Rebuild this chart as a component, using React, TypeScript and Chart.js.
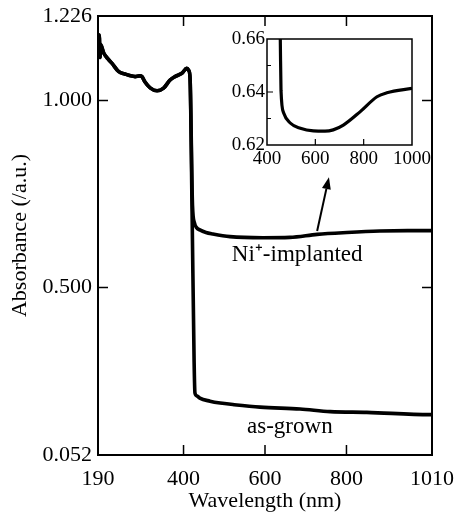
import React, { useEffect, useRef } from "react";
import { Chart, registerables } from "chart.js";

Chart.register(...registerables);

// Shared UV part of both spectra (before the absorption edge)
const uvWavelength = [191, 193, 195, 196, 204, 214, 224, 241, 256, 270, 281, 292, 298, 305, 318, 335, 351, 367, 379, 396, 408, 413, 416];
const uvAbsorbance = [1.125, 1.175, 1.115, 1.15, 1.127, 1.112, 1.1, 1.077, 1.071, 1.066, 1.064, 1.066, 1.064, 1.05, 1.034, 1.026, 1.033, 1.055, 1.064, 1.073, 1.086, 1.08, 1.06];

// Ni+-implanted tail
const niWavelength = [422, 427, 432, 440, 455, 472, 514, 595, 661, 728, 801, 882, 950, 1010];
const niAbsorbance = [0.72, 0.672, 0.66, 0.654, 0.647, 0.643, 0.636, 0.633, 0.634, 0.642, 0.647, 0.651, 0.652, 0.652];

// as-grown tail
const grownWavelength = [421, 426, 428, 433, 440, 465, 490, 521, 588, 686, 760, 850, 1005, 1010];
const grownAbsorbance = [0.7, 0.3, 0.218, 0.21, 0.204, 0.196, 0.191, 0.187, 0.18, 0.175, 0.168, 0.166, 0.16, 0.16];

// Inset (Ni+-implanted, enlarged)
const insetWavelength = [453, 455, 458, 469, 496, 538, 592, 640, 674, 716, 786, 855, 896, 1000];
const insetAbsorbance = [0.67, 0.66, 0.6405, 0.6321, 0.6283, 0.6263, 0.6253, 0.6252, 0.6257, 0.6275, 0.6326, 0.6382, 0.6397, 0.6414];

const xTickValues = [190, 400, 600, 800, 1010];
const yTickValues = [0.052, 0.5, 1.0, 1.226];
const insetXTicks = [400, 600, 800, 1000];
const insetYTicks = [0.62, 0.64, 0.66];
const insetYMinor = [0.63, 0.65];

const FONT = "'Liberation Serif', 'Times New Roman', serif";

const toPoints = (xs: number[], ys: number[]) => xs.map((x, i) => ({ x, y: ys[i] }));

function framePlugin(cfg: any) {
  return {
    id: "frameTicks",
    afterDatasetsDraw(chart: any) {
      const { ctx, chartArea: a, scales } = chart;
      const sx = scales.x;
      const sy = scales.y;
      ctx.save();
      ctx.strokeStyle = "#000";
      ctx.lineWidth = cfg.frameWidth;
      ctx.strokeRect(a.left, a.top, a.right - a.left, a.bottom - a.top);
      ctx.lineWidth = cfg.tickWidth;
      ctx.beginPath();
      for (const v of cfg.xTicks) {
        const px = sx.getPixelForValue(v);
        ctx.moveTo(px, a.bottom);
        ctx.lineTo(px, a.bottom - cfg.len);
        if (cfg.mirror) {
          ctx.moveTo(px, a.top);
          ctx.lineTo(px, a.top + cfg.len);
        }
      }
      for (const v of cfg.yTicks) {
        const py = sy.getPixelForValue(v);
        ctx.moveTo(a.left, py);
        ctx.lineTo(a.left + cfg.len, py);
        if (cfg.mirror) {
          ctx.moveTo(a.right, py);
          ctx.lineTo(a.right - cfg.len, py);
        }
      }
      for (const v of cfg.yMinor || []) {
        const py = sy.getPixelForValue(v);
        ctx.moveTo(a.left, py);
        ctx.lineTo(a.left + cfg.minorLen, py);
      }
      ctx.stroke();

      if (cfg.annotations) {
        ctx.fillStyle = "#000";
        ctx.font = `23px ${FONT}`;
        ctx.textAlign = "center";
        ctx.textBaseline = "middle";
        for (const t of cfg.annotations) {
          ctx.fillText(t.text, sx.getPixelForValue(t.x), sy.getPixelForValue(t.y));
        }
      }
      if (cfg.arrow) {
        const x0 = sx.getPixelForValue(cfg.arrow.from[0]);
        const y0 = sy.getPixelForValue(cfg.arrow.from[1]);
        const x1 = sx.getPixelForValue(cfg.arrow.to[0]);
        const y1 = sy.getPixelForValue(cfg.arrow.to[1]);
        const ang = Math.atan2(y1 - y0, x1 - x0);
        const hl = 12;
        const hw = 4.5;
        const bx = x1 - hl * Math.cos(ang);
        const by = y1 - hl * Math.sin(ang);
        ctx.lineWidth = 2;
        ctx.beginPath();
        ctx.moveTo(x0, y0);
        ctx.lineTo(bx, by);
        ctx.stroke();
        ctx.beginPath();
        ctx.moveTo(x1, y1);
        ctx.lineTo(bx + hw * Math.sin(ang), by - hw * Math.cos(ang));
        ctx.lineTo(bx - hw * Math.sin(ang), by + hw * Math.cos(ang));
        ctx.closePath();
        ctx.fill();
      }
      ctx.restore();
    },
  };
}

export default function App() {
  const mainRef = useRef<HTMLCanvasElement>(null);
  const insetRef = useRef<HTMLCanvasElement>(null);

  useEffect(() => {
    const lineStyle = {
      borderColor: "#000",
      borderWidth: 3.6,
      pointRadius: 0,
      fill: false,
      cubicInterpolationMode: "monotone" as const,
    };
    const main = new Chart(mainRef.current!, {
      type: "line",
      data: {
        datasets: [
          { label: "Ni+-implanted", data: toPoints([...uvWavelength, ...niWavelength], [...uvAbsorbance, ...niAbsorbance]), ...lineStyle },
          { label: "as-grown", data: toPoints([...uvWavelength, ...grownWavelength], [...uvAbsorbance, ...grownAbsorbance]), ...lineStyle },
        ],
      },
      options: {
        animation: false,
        responsive: false,
        events: [],
        layout: { padding: { top: 16, right: 26, left: 0, bottom: 0 } },
        plugins: { legend: { display: false }, tooltip: { enabled: false } },
        scales: {
          x: {
            type: "linear",
            min: 190,
            max: 1010,
            grid: { display: false, drawTicks: false },
            border: { display: false },
            afterBuildTicks: (s: any) => { s.ticks = xTickValues.map((value) => ({ value })); },
            afterFit: (s: any) => { s.height = 57; s.paddingLeft = 0; s.paddingRight = 0; },
            ticks: { color: "#000", padding: 11, maxRotation: 0, autoSkip: false, font: { family: FONT, size: 22 }, callback: (v: any) => String(v) },
            title: { display: true, text: "Wavelength (nm)", color: "#000", font: { family: FONT, size: 22 }, padding: { top: 0, bottom: -2 } },
          },
          y: {
            type: "linear",
            min: 0.052,
            max: 1.226,
            grid: { display: false, drawTicks: false },
            border: { display: false },
            afterBuildTicks: (s: any) => { s.ticks = yTickValues.map((value) => ({ value })); },
            afterFit: (s: any) => { s.width = 98; s.paddingTop = 0; s.paddingBottom = 0; },
            ticks: { color: "#000", padding: 6, autoSkip: false, font: { family: FONT, size: 22 }, callback: (v: any) => Number(v).toFixed(3) },
            title: { display: true, text: "Absorbance (/a.u.)", color: "#000", font: { family: FONT, size: 22 }, padding: { top: 7, bottom: 0 } },
          },
        },
      },
      plugins: [
        framePlugin({
          frameWidth: 2,
          tickWidth: 1.5,
          len: 10,
          mirror: true,
          xTicks: xTickValues,
          yTicks: [0.5, 1.0],
          annotations: [
            { text: "Ni⁺-implanted", x: 679, y: 0.587 },
            { text: "as-grown", x: 661, y: 0.127 },
          ],
          arrow: { from: [728, 0.651], to: [757, 0.795] },
        }),
      ],
    });

    const inset = new Chart(insetRef.current!, {
      type: "line",
      data: {
        datasets: [{ label: "inset", data: toPoints(insetWavelength, insetAbsorbance), ...lineStyle, borderWidth: 3.2 }],
      },
      options: {
        animation: false,
        responsive: false,
        events: [],
        layout: { padding: { top: 11, right: 33, left: 0, bottom: 0 } },
        plugins: { legend: { display: false }, tooltip: { enabled: false } },
        scales: {
          x: {
            type: "linear",
            min: 400,
            max: 1000,
            grid: { display: false, drawTicks: false },
            border: { display: false },
            afterBuildTicks: (s: any) => { s.ticks = insetXTicks.map((value) => ({ value })); },
            afterFit: (s: any) => { s.height = 33; s.paddingLeft = 0; s.paddingRight = 0; },
            ticks: { color: "#000", padding: 3, maxRotation: 0, autoSkip: false, font: { family: FONT, size: 19 }, callback: (v: any) => String(v) },
          },
          y: {
            type: "linear",
            min: 0.62,
            max: 0.66,
            grid: { display: false, drawTicks: false },
            border: { display: false },
            afterBuildTicks: (s: any) => { s.ticks = insetYTicks.map((value) => ({ value })); },
            afterFit: (s: any) => { s.width = 52; s.paddingTop = 0; s.paddingBottom = 0; },
            ticks: { color: "#000", padding: 2, autoSkip: false, font: { family: FONT, size: 19 }, callback: (v: any) => Number(v).toFixed(2) },
          },
        },
      },
      plugins: [
        framePlugin({
          frameWidth: 1.5,
          tickWidth: 1.2,
          len: 6,
          minorLen: 4,
          mirror: false,
          xTicks: [600, 800],
          yTicks: [0.64],
          yMinor: insetYMinor,
        }),
      ],
    });

    return () => {
      main.destroy();
      inset.destroy();
    };
  }, []);

  return (
    <div style={{ position: "absolute", left: 0, top: 0, width: 458, height: 512, background: "#fff" }}>
      <canvas ref={mainRef} width={458} height={512} style={{ position: "absolute", left: 0, top: 0, width: 458, height: 512 }} />
      <canvas ref={insetRef} width={230} height={150} style={{ position: "absolute", left: 215, top: 28, width: 230, height: 150 }} />
    </div>
  );
}
